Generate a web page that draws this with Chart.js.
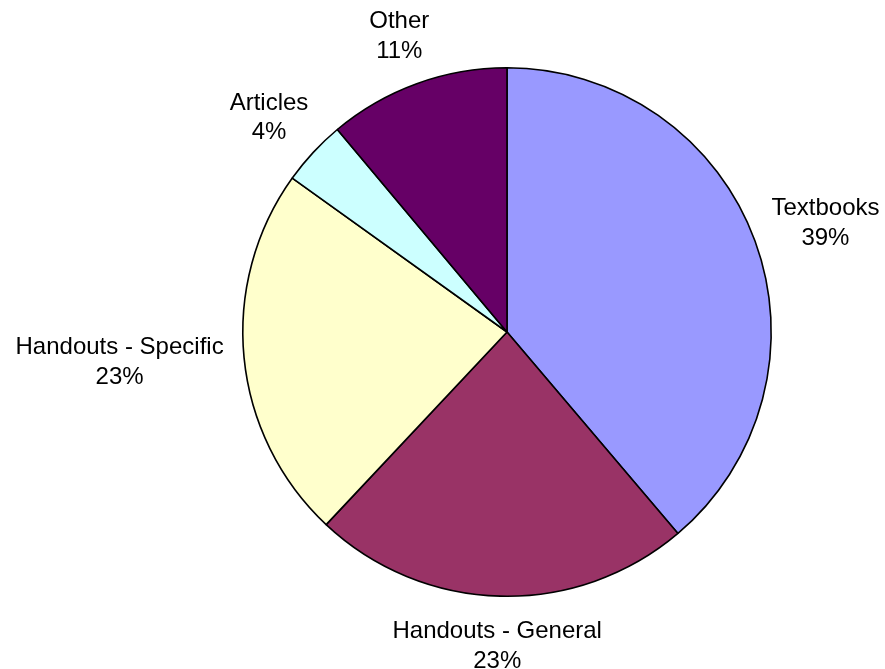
<!DOCTYPE html>
<html>
<head>
<meta charset="utf-8">
<script src="https://cdn.jsdelivr.net/npm/chart.js@4.4.0/dist/chart.umd.min.js"></script>
<style>
  html, body { margin: 0; padding: 0; background: #fff; }
  #wrap { width: 885px; height: 669px; }
</style>
</head>
<body>
<div id="wrap"><canvas id="chart" width="885" height="669"></canvas></div>
<script>
const labels = ['Textbooks', 'Handouts - General', 'Handouts - Specific', 'Articles', 'Other'];
const values = [38.8, 23.2, 22.9, 4.0, 11.1];
const colors = ['#9999FF', '#993366', '#FFFFCC', '#CCFFFF', '#660066'];

const labelFont = '24px "Liberation Sans", Arial, sans-serif';
const lineHeight = 29.5;
const labelGap = 21;

// draws "name / pct%" outside each slice, like Excel's outside-end labels
const outsideLabels = {
	id: 'outsideLabels',
	afterDatasetsDraw(chart) {
		const ctx = chart.ctx;
		const meta = chart.getDatasetMeta(0);
		const total = values.reduce((a, b) => a + b, 0);
		ctx.save();
		ctx.font = labelFont;
		ctx.fillStyle = '#000';
		ctx.textAlign = 'center';
		ctx.textBaseline = 'middle';
		meta.data.forEach((arc, i) => {
			const p = arc.getProps(['x', 'y', 'startAngle', 'endAngle', 'outerRadius'], true);
			const mid = (p.startAngle + p.endAngle) / 2;
			const dx = Math.cos(mid), dy = Math.sin(mid);
			const lines = [labels[i], Math.round(values[i] / total * 100) + '%'];
			const w = Math.max(...lines.map(l => ctx.measureText(l).width));
			const h = lines.length * lineHeight;
			const cx = p.x + dx * (p.outerRadius + labelGap) + dx * w / 2;
			const cy = p.y + dy * (p.outerRadius + labelGap) + dy * h / 2;
			lines.forEach((l, j) => {
				ctx.fillText(l, cx, cy - h / 2 + lineHeight * (j + 0.5));
			});
		});
		ctx.restore();
	}
};

const ctx = document.getElementById('chart').getContext('2d');

const config = {
	type: 'pie',
	data: {
		labels: labels,
		datasets: [{
			data: values,
			backgroundColor: colors,
			borderColor: '#000',
			borderWidth: 1.6,
		}]
	},
	options: {
		responsive: false,
		animation: false,
		layout: {
			padding: { left: 242, right: 113, top: 67, bottom: 72 }
		},
		plugins: {
			legend: { display: false },
			tooltip: { enabled: false },
		}
	},
	plugins: [outsideLabels]
};

const chart = new Chart(ctx, config);
</script>
</body>
</html>
